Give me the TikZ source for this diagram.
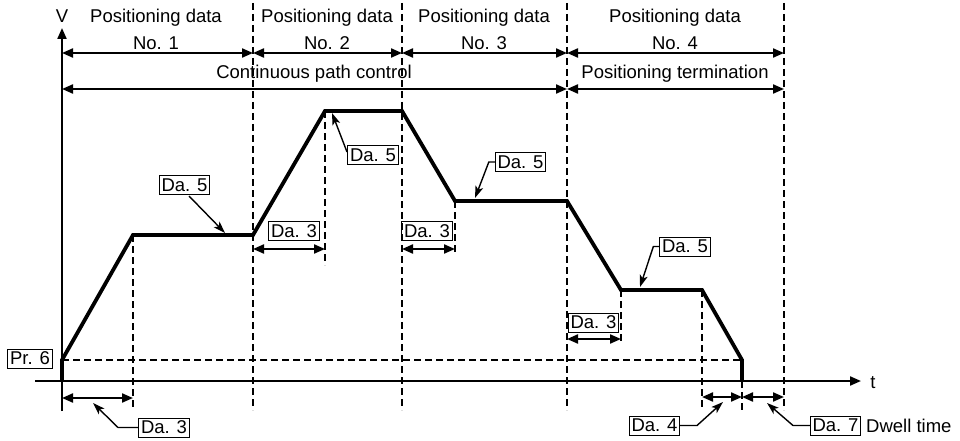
\documentclass[tikz,border=0pt]{standalone}
\usepackage{fontspec}
\setmainfont{Liberation Sans}
\usetikzlibrary{arrows.meta}
\begin{document}
\begin{tikzpicture}[x=1pt,y=-1pt,
  every node/.style={font=\fontsize{18.5}{20}\selectfont, inner sep=0pt},
  dabox/.style={draw, line width=1pt, inner sep=2.2pt, minimum height=19pt},
  guide/.style={line width=1.9pt, dash pattern=on 7pt off 4pt},
  axis/.style={line width=2.1pt},
  profile/.style={line width=3.8pt, line join=miter},
  span/.style={line width=2.1pt, {Triangle[length=11pt,width=9pt]}-{Triangle[length=11pt,width=9pt]}},
  lead/.style={line width=1.4pt, -{Stealth[length=12pt,width=8pt,inset=3pt]}}
]
\useasboundingbox (0,0) rectangle (960,441);

% profile points
\coordinate (p0) at (62,381);
\coordinate (p1) at (62,360);
\coordinate (p2) at (133,235);
\coordinate (p3) at (253,235);
\coordinate (p4) at (325,111);
\coordinate (p5) at (402,111);
\coordinate (p6) at (455,201);
\coordinate (p7) at (567,201);
\coordinate (p8) at (621,290);
\coordinate (p9) at (702,290);
\coordinate (p10) at (742,360);
\coordinate (p11) at (742,381);

% full-height division lines
\foreach \n/\x in {a/253,b/402,c/567,d/784}{
  \coordinate (top\n) at (\x,3);
  \coordinate (bot\n) at (\x,410);
  \draw[guide] (top\n) -- (bot\n);
}
% partial guide lines
\coordinate (g2) at (133,410);
\coordinate (g4) at (325,265);
\coordinate (g6) at (455,255);
\coordinate (g8) at (621,343);
\coordinate (g9) at (702,410);
\coordinate (g11) at (742,410);
\draw[guide] (p2) -- (g2);
\draw[guide] (p4) -- (g4);
\draw[guide] (p6) -- (g6);
\draw[guide] (p8) -- (g8);
\draw[guide] (p9) -- (g9);
\draw[guide] (p11) -- (g11);
% Pr.6 level
\draw[guide] (p1) -- (p10);

% axes
\coordinate (vtop) at (62,28);
\coordinate (vbot) at (62,411);
\coordinate (tl) at (35,381);
\coordinate (tr) at (861,381);
\draw[axis, -{Triangle[length=11pt,width=9pt]}] (vbot) -- (vtop);
\draw[axis, -{Triangle[length=11pt,width=9pt]}] (tl) -- (tr);
\node (V) at (62,16) {V};
\node (t) at (873,383) {t};

% profile
\draw[profile] (p0) -- (p1) -- (p2) -- (p3) -- (p4) -- (p5) -- (p6) -- (p7) -- (p8) -- (p9) -- (p10) -- (p11);

% header spans
\coordinate (h1a) at (62,53);
\coordinate (h1b) at (253,53);
\coordinate (h1c) at (402,53);
\coordinate (h1d) at (567,53);
\coordinate (h1e) at (784,53);
\draw[span] (h1a) -- (h1b);
\draw[span] (h1b) -- (h1c);
\draw[span] (h1c) -- (h1d);
\draw[span] (h1d) -- (h1e);
\coordinate (h2a) at (62,89);
\coordinate (h2d) at (567,89);
\coordinate (h2e) at (784,89);
\draw[span] (h2a) -- (h2d);
\draw[span] (h2d) -- (h2e);

\node (pd1) at (156,18) {Positioning data};
\node (no1) at (156,43) {No. 1};
\node (pd2) at (327,18) {Positioning data};
\node (no2) at (327,43) {No. 2};
\node (pd3) at (484,18) {Positioning data};
\node (no3) at (484,43) {No. 3};
\node (pd4) at (675,18) {Positioning data};
\node (no4) at (675,43) {No. 4};
\node (cpc) at (314,74) {Continuous path control};
\node (pt) at (675,74) {Positioning termination};

% Pr.6
\node[dabox] (pr6) at (30,358.5) {Pr. 6};

% Da.5 labels
\node[dabox] (d51) at (184.5,185) {Da. 5};
\coordinate (d51t) at (225,233);
\draw[lead] (189,196) -- (d51t);

\node[dabox] (d52) at (373,155) {Da. 5};
\coordinate (d52t) at (332,113);
\draw[lead] (347,152) -- (d52t);

\node[dabox] (d53) at (520.5,162) {Da. 5};
\coordinate (d53t) at (475,198);
\draw[lead] (d53.west) -- ++(-6,0) -- (d53t);

\node[dabox] (d54) at (685,246.5) {Da. 5};
\coordinate (d54t) at (640,287);
\draw[lead] (d54.west) -- ++(-6,0) -- (d54t);

% Da.3 labels with dimension arrows
\node[dabox] (d31) at (294,231) {Da. 3};
\coordinate (d31a) at (253,249);
\coordinate (d31b) at (325,249);
\draw[span] (d31a) -- (d31b);

\node[dabox] (d32) at (427,231) {Da. 3};
\coordinate (d32a) at (402,249);
\coordinate (d32b) at (455,249);
\draw[span] (d32a) -- (d32b);

\node[dabox] (d33) at (593.5,322.5) {Da. 3};
\coordinate (d33a) at (567,339);
\coordinate (d33b) at (621,339);
\draw[span] (d33a) -- (d33b);

\coordinate (d34a) at (62,398);
\coordinate (d34b) at (133,398);
\draw[span] (d34a) -- (d34b);
\node[dabox] (d34) at (164,427.5) {Da. 3};
\coordinate (d34t) at (93,403);
\draw[lead] (d34.west) -- (118,427.5) -- (d34t);

% Da.4 and Da.7
\coordinate (d4a) at (702,397);
\coordinate (d4b) at (742,397);
\draw[span] (d4a) -- (d4b);
\node[dabox] (d4) at (654.5,425.5) {Da. 4};
\coordinate (d4t) at (723,402);
\draw[lead] (d4.east) -- (697,425.5) -- (d4t);

\coordinate (d7a) at (742,397);
\coordinate (d7b) at (784,397);
\draw[span] (d7a) -- (d7b);
\node[dabox] (d7) at (835.5,425.5) {Da. 7};
\coordinate (d7t) at (767,403);
\draw[lead] (d7.west) -- (793,425.5) -- (d7t);
\node[anchor=west] (dw) at (866,425.5) {Dwell time};
\end{tikzpicture}
\end{document}
